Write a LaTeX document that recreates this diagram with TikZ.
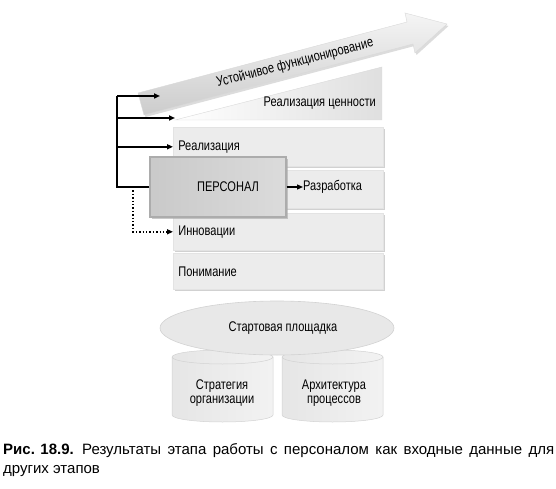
\documentclass[tikz,border=0pt]{standalone}
\usepackage{fontspec}
\setmainfont{Liberation Sans}
\newfontfamily\cond[FakeStretch=0.79]{Liberation Sans}
\usetikzlibrary{arrows.meta,shadows,shapes.geometric,calc}
\begin{document}
\begin{tikzpicture}[x=1pt,y=-1pt,
  lbl/.style={font=\cond\fontsize{14}{15.5}\selectfont, inner sep=0pt},
  band/.style={fill=gray!15, draw=gray!22, line width=0.6pt,
    drop shadow={shadow xshift=1.3pt,shadow yshift=-1.3pt,fill=gray!60,opacity=0.6},
    minimum width=210pt, text width=200pt, align=left, inner sep=5pt,
    font=\cond\fontsize{14}{15.5}\selectfont, anchor=north west},
  persbox/.style={draw=gray!65, line width=1.4pt, left color=gray!42, right color=gray!28,
    drop shadow={shadow xshift=2pt,shadow yshift=-2pt,fill=gray!70,opacity=0.6},
    minimum width=136pt, minimum height=60pt, font=\cond\fontsize{14}{15.5}\selectfont},
  bigarrow/.style={top color=gray!8, bottom color=gray!40, draw=gray!30, line width=0.4pt,
    drop shadow={shadow xshift=1.5pt,shadow yshift=-2pt,fill=gray!55,opacity=0.5}},
  wedgefill/.style={left color=white, right color=gray!25, draw=gray!30, line width=0.4pt},
  cylfill/.style={left color=gray!20, right color=gray!10, draw=gray!35, line width=0.5pt},
  conn/.style={line width=1.6pt, -{Triangle[length=6pt,width=5pt]}},
  dconn/.style={line width=1.4pt, dotted, -{Triangle[length=6pt,width=5pt]}}
]
\useasboundingbox (0,0) rectangle (556,489);

% big arrow
\path[bigarrow] (138,93) -- (407,22) -- (405,13) -- (447,24) -- (415,53) -- (413,44) -- (144,115) -- cycle;
\node[lbl, rotate=14.5] (sust) at (295,63) {Устойчивое функционирование};

% wedge
\path[wedgefill] (175,120) -- (382,67) -- (382,120) -- cycle;
\node[lbl, anchor=east] (valtext) at (376,103) {Реализация ценности};

% layers
\node[band, minimum height=39pt] (real) at (173,127) {Реализация};
\node[band, minimum height=38pt] (razr) at (173,170) {};
\node[band, minimum height=37pt] (inno) at (173,213) {Инновации};
\node[band, minimum height=36pt] (pon)  at (173,253) {Понимание};

% personnel
\node[persbox] (pers) at (218,187) {\hspace*{20pt}ПЕРСОНАЛ};
\node[lbl, anchor=west] (razrtext) at (303,187) {Разработка};
\draw[line width=1.3pt, -{Triangle[length=6pt,width=5pt]}] (pers.east) -- (razrtext.west);

% connectors
\coordinate (arrowin) at (160,96);
\coordinate (valin) at (175,118);
\coordinate (bus) at (117,96);
\coordinate (dj) at (133,187);
\draw[line width=1.6pt] (pers.west) -| (bus);
\draw[conn] (bus) -- (arrowin);
\draw[conn] (bus |- valin) -- (valin);
\draw[conn] (bus |- real.west) -- (real.west);
\draw[dconn] (dj) |- (inno.west);

% start ellipse and cylinders
\path[cylfill] (172,357) -- (172,415) arc[start angle=180,end angle=0,x radius=50.5,y radius=7] -- (273,357) arc[start angle=0,end angle=-180,x radius=50.5,y radius=7] -- cycle;
\path[cylfill] (282,357) -- (282,415) arc[start angle=180,end angle=0,x radius=50.5,y radius=7] -- (383,357) arc[start angle=0,end angle=-180,x radius=50.5,y radius=7] -- cycle;
\draw[gray!35, line width=0.5pt] (172,357) arc[start angle=180,end angle=0,x radius=50.5,y radius=7];
\draw[gray!35, line width=0.5pt] (282,357) arc[start angle=180,end angle=0,x radius=50.5,y radius=7];
\node[lbl, align=center] (strat) at (222,393) {Стратегия\\[-1pt]организации};
\node[lbl, align=center] (arch) at (334,393) {Архитектура\\[-1pt]процессов};
\node[ellipse, fill=gray!18, draw=gray!35, line width=0.6pt, minimum width=234pt, minimum height=54pt, lbl] (start) at (277,328) {\hspace*{12pt}Стартовая площадка};

% caption
\node[anchor=north west, text width=551pt, inner sep=0pt, align=justify,
  font=\fontsize{15}{19}\selectfont] (cap) at (3,443)
  {\mbox{\textbf{Рис. 18.9.}\ \ }Результаты этапа работы с персоналом как входные данные для\linebreak других этапов};
\end{tikzpicture}
\end{document}
